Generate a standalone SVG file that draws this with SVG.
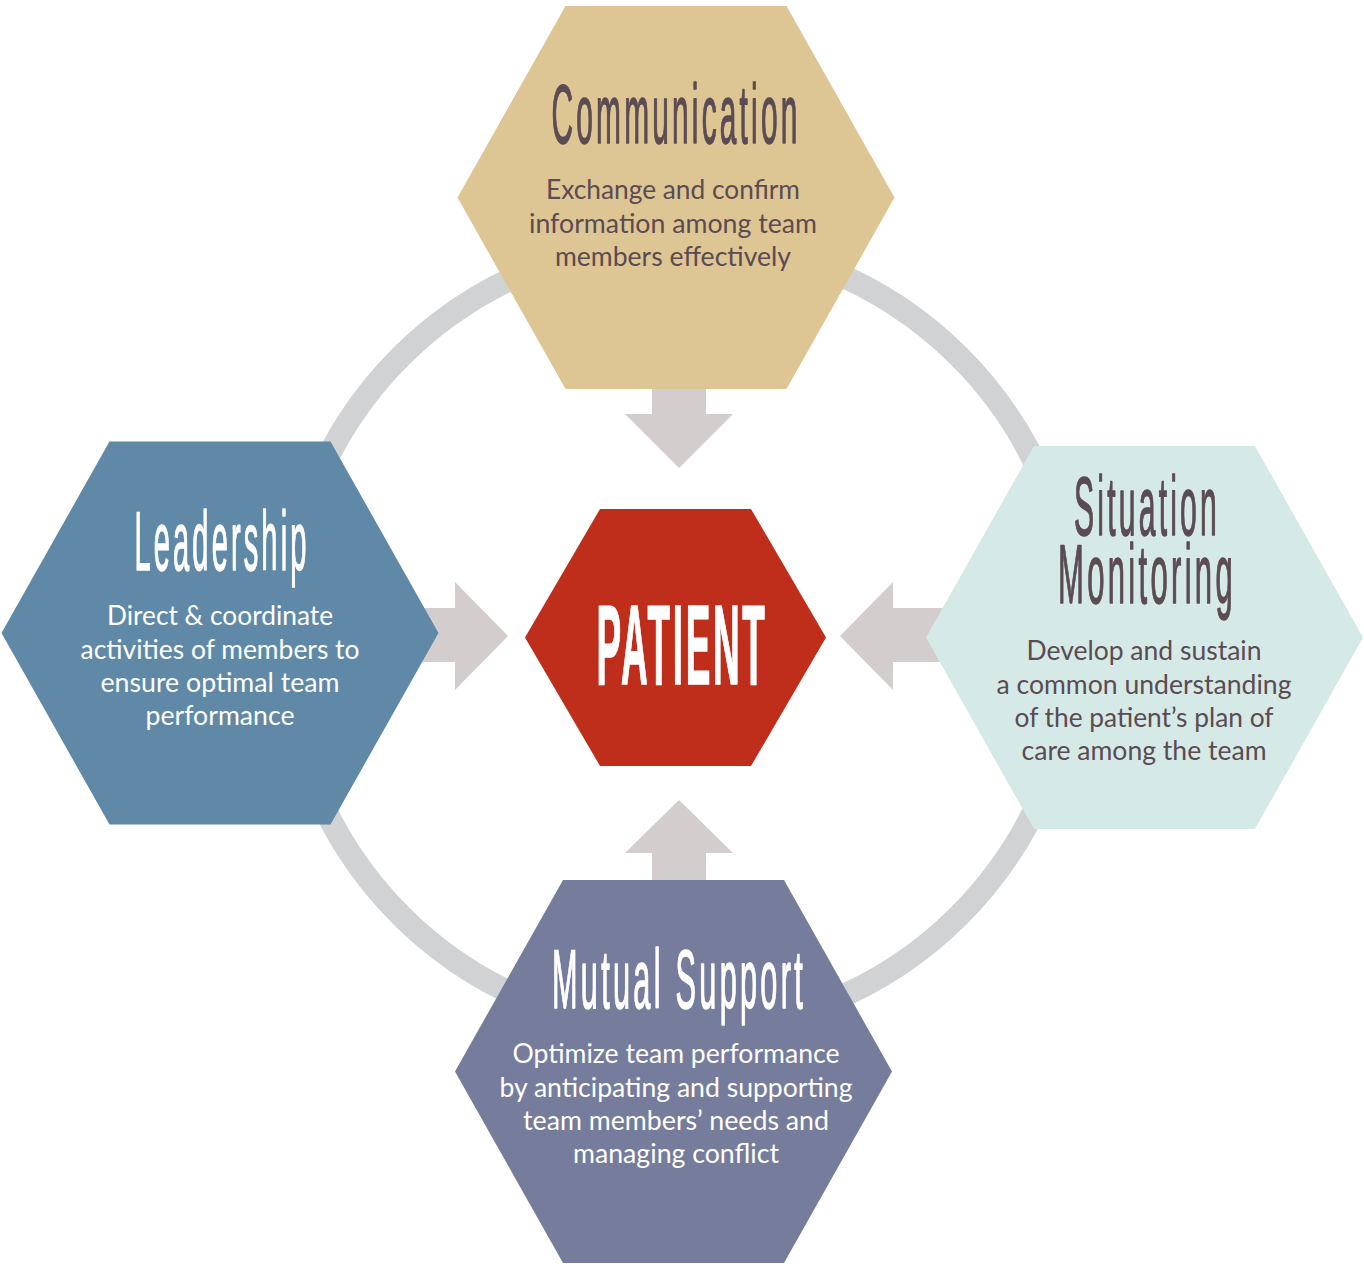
<svg xmlns="http://www.w3.org/2000/svg" width="1364" height="1266" viewBox="0 0 1364 1266">
<style>
.title{font-family:"Liberation Sans",Arial,sans-serif;font-weight:normal;text-anchor:middle;letter-spacing:9px;stroke-width:1.5px;stroke-linejoin:round}
.ptitle{font-family:"Liberation Sans",Arial,sans-serif;font-weight:bold;text-anchor:middle;letter-spacing:8px;stroke-width:1.6px;stroke:#ffffff}
.body{font-family:Lato,"Liberation Sans",sans-serif;font-size:26px;text-anchor:middle}
.dark{fill:#5b4b52}
.light{fill:#ffffff}
.title.dark{stroke:#5b4b52}
.title.light{stroke:#ffffff}
.arrow{fill:#d3cdcd}
</style>
<rect width="1364" height="1266" fill="#ffffff"/>
<g id="connectors">
<circle cx="680" cy="636" r="395" fill="none" stroke="#d1d2d4" stroke-width="23"/>
<polygon class="arrow" points="652,380 706,380 706,414 733,414 679,468 625,414 652,414"/>
<polygon class="arrow" points="652,890 706,890 706,853 733,853 679,800 625,853 652,853"/>
<polygon class="arrow" points="410,608 455,608 455,582 508,636 455,690 455,662 410,662"/>
<polygon class="arrow" points="950,608 893,608 893,582 840,636 893,690 893,662 950,662"/>
</g>
<g id="communication">
<polygon fill="#dec594" points="457.5,197.5 565.5,6 786.5,6 894.5,197.5 786.5,389 565.5,389"/>
<text class="title dark" x="676" y="143" font-size="84" textLength="249" lengthAdjust="spacingAndGlyphs">Communication</text>
<text class="body dark" x="673" y="199" textLength="254" lengthAdjust="spacingAndGlyphs">Exchange and confirm</text>
<text class="body dark" x="673" y="233" textLength="288" lengthAdjust="spacingAndGlyphs">information among team</text>
<text class="body dark" x="673" y="266" textLength="236" lengthAdjust="spacingAndGlyphs">members effectively</text>
</g>
<g id="leadership">
<polygon fill="#6089a8" points="1.5,633 109.5,441.5 330.5,441.5 438.5,633 330.5,824.5 109.5,824.5"/>
<text class="title light" x="222" y="570" font-size="84" textLength="175" lengthAdjust="spacingAndGlyphs">Leadership</text>
<text class="body light" x="220" y="625" textLength="226" lengthAdjust="spacingAndGlyphs">Direct &amp; coordinate</text>
<text class="body light" x="220" y="659" textLength="279" lengthAdjust="spacingAndGlyphs">activities of members to</text>
<text class="body light" x="220" y="692" textLength="239" lengthAdjust="spacingAndGlyphs">ensure optimal team</text>
<text class="body light" x="220" y="725" textLength="149" lengthAdjust="spacingAndGlyphs">performance</text>
</g>
<g id="situation-monitoring">
<polygon fill="#d5eae6" points="926,637.5 1034,446 1255,446 1363,637.5 1255,829 1034,829"/>
<text class="title dark" x="1147" y="535" font-size="84" textLength="146" lengthAdjust="spacingAndGlyphs">Situation</text>
<text class="title dark" x="1147" y="603" font-size="84" textLength="178" lengthAdjust="spacingAndGlyphs">Monitoring</text>
<text class="body dark" x="1144" y="660" textLength="235" lengthAdjust="spacingAndGlyphs">Develop and sustain</text>
<text class="body dark" x="1144" y="694" textLength="295" lengthAdjust="spacingAndGlyphs">a common understanding</text>
<text class="body dark" x="1144" y="727" textLength="259" lengthAdjust="spacingAndGlyphs">of the patient’s plan of</text>
<text class="body dark" x="1144" y="760" textLength="245" lengthAdjust="spacingAndGlyphs">care among the team</text>
</g>
<g id="mutual-support">
<polygon fill="#767c9c" points="455,1071.5 563,880 784,880 892,1071.5 784,1263 563,1263"/>
<text class="title light" x="679" y="1008" font-size="84" textLength="254" lengthAdjust="spacingAndGlyphs">Mutual Support</text>
<text class="body light" x="676" y="1063" textLength="327" lengthAdjust="spacingAndGlyphs">Optimize team performance</text>
<text class="body light" x="676" y="1097" textLength="353" lengthAdjust="spacingAndGlyphs">by anticipating and supporting</text>
<text class="body light" x="676" y="1130" textLength="306" lengthAdjust="spacingAndGlyphs">team members’ needs and</text>
<text class="body light" x="676" y="1163" textLength="206" lengthAdjust="spacingAndGlyphs">managing conflict</text>
</g>
<g id="patient">
<polygon fill="#be2e1a" points="525,637.5 600,509 751,509 826,637.5 751,766 600,766"/>
<text class="ptitle light" x="682" y="684" font-size="113" textLength="171" lengthAdjust="spacingAndGlyphs">PATIENT</text>
</g>
</svg>
